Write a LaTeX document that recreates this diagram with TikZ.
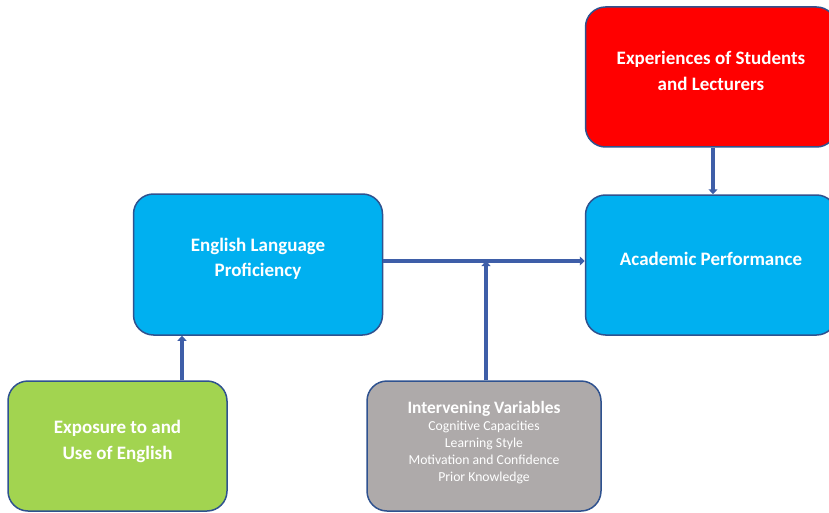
\documentclass[tikz,border=0pt]{standalone}
\usepackage{fontspec}
\setmainfont{Carlito}
\usetikzlibrary{arrows.meta}
\definecolor{boxcyan}{RGB}{0,176,240}
\definecolor{boxred}{RGB}{255,0,0}
\definecolor{boxgreen}{RGB}{162,212,80}
\definecolor{boxgray}{RGB}{174,170,170}
\definecolor{boxline}{RGB}{47,82,143}
\definecolor{arrowblue}{RGB}{62,94,168}
\tikzset{
  box/.style={draw=boxline, line width=1.5pt, rounded corners=20pt, inner sep=0pt},
  boxtext/.style={text=white, align=center, inner sep=0pt,
    font=\fontsize{19}{25.5}\selectfont\bfseries},
  link/.style={draw=arrowblue, line width=4.5pt, -{Triangle[length=5pt,width=9pt]}}
}
\begin{document}
\begin{tikzpicture}[x=1pt,y=-1pt]
\useasboundingbox (0,0) rectangle (829,513);
% boxes
\node[box, fill=boxred, minimum width=251pt, minimum height=140pt] (exp) at (711,77) {};
\node[box, fill=boxcyan, minimum width=251pt, minimum height=140pt] (ap) at (711,265) {};
\node[box, fill=boxcyan, minimum width=249pt, minimum height=141pt] (elp) at (258,264.5) {};
\node[box, fill=boxgreen, minimum width=219pt, minimum height=130pt] (eue) at (117.5,446) {};
\node[box, fill=boxgray, minimum width=234pt, minimum height=130pt] (iv) at (484,446) {};
% texts
\node[boxtext] (exptext) at ([yshift=6pt]exp.center) {Experiences of Students\\and Lecturers};
\node[boxtext] (aptext) at ([yshift=6.5pt]ap.center) {Academic Performance};
\node[boxtext] (elptext) at ([yshift=5.5pt]elp.center) {English Language\\Proficiency};
\node[boxtext] (euetext) at ([yshift=4.5pt]eue.center) {Exposure to and\\Use of English};
\node[boxtext, font=\fontsize{13.7}{17}\selectfont] (ivtext) at ([yshift=3.5pt]iv.center)
  {{\fontsize{17.4}{17}\selectfont\bfseries Intervening Variables}\\Cognitive Capacities\\Learning Style\\Motivation and Confidence\\Prior Knowledge};
\coordinate (j) at (486,261);

% arrows
\path[link] (eue.north -| 182,0) -- (elp.south -| 182,0);
\path[link] (elp.east |- j) -- (ap.west |- j);
\path[link] (iv.north -| j) -- (j);
\path[link] (exp.south -| 713,0) -- (ap.north -| 713,0);
\end{tikzpicture}
\end{document}
